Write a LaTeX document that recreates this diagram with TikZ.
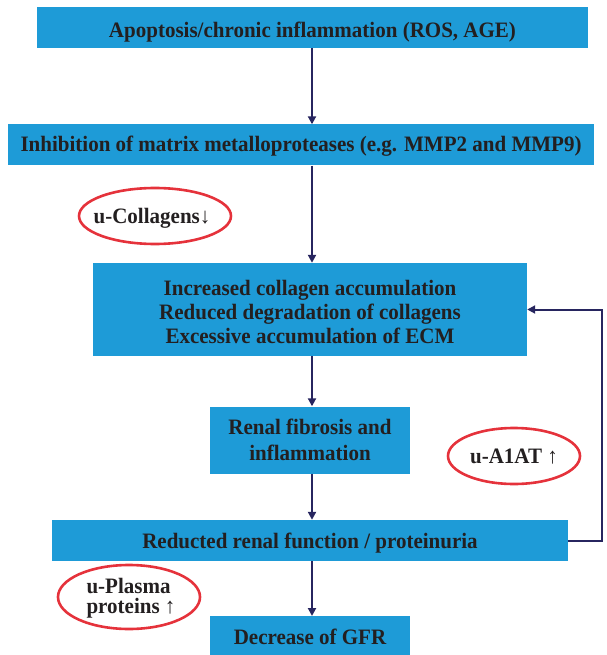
\documentclass[tikz,border=0pt]{standalone}
\usepackage{fontspec}
\setmainfont[FakeStretch=0.955]{Liberation Serif}
\usetikzlibrary{arrows.meta,shapes.geometric}
\definecolor{boxblue}{HTML}{1E9BD7}
\definecolor{navy}{HTML}{27255F}
\definecolor{ovalred}{HTML}{E5323B}
\definecolor{txt}{HTML}{231F20}
\newcommand{\lowertxt}[2]{\raisebox{-#1}[\height][\depth]{#2}}
\begin{document}
\begin{tikzpicture}[x=1pt,y=-1pt,
  box/.style={draw=none,fill=boxblue,inner sep=0pt,text=txt,font=\fontsize{22}{24}\selectfont\bfseries,align=center},
  conn/.style={draw=navy,line width=2pt,-{Triangle[length=8pt,width=8pt]}},
  ovaltext/.style={inner sep=0pt,text=txt,font=\fontsize{22}{20}\selectfont\bfseries,align=left},
  ovalline/.style={draw=ovalred,line width=2.6pt}]
\useasboundingbox (0,0) rectangle (606,655);
\node[box,minimum width=551pt,minimum height=41pt] (b1) at (312.5,27.5) {\lowertxt{5pt}{Apoptosis/chronic inflammation (ROS, AGE)}};
\node[box,minimum width=586pt,minimum height=41pt] (b2) at (301,145) {\lowertxt{1pt}{Inhibition of matrix metalloproteases (e.g. MMP2 and MMP9)}};
\node[box,minimum width=434pt,minimum height=93pt] (b3) at (310,309.5) {\lowertxt{2pt}{\parbox{430pt}{\centering Increased collagen accumulation\\Reduced degradation of collagens\\Excessive accumulation of ECM}}};
\node[box,minimum width=200pt,minimum height=67pt,font=\fontsize{22}{26}\selectfont\bfseries] (b4) at (310,440) {Renal fibrosis and\\inflammation};
\node[box,minimum width=516pt,minimum height=41pt] (b5) at (310,540.5) {\lowertxt{3pt}{Reducted renal function / proteinuria}};
\node[box,minimum width=200pt,minimum height=42pt,anchor=north] (b6) at (310,616) {Decrease of GFR};
\node[ovaltext] (o1) at (152,218) {u-Collagens↓};
\node[ovaltext] (o2) at (514,457) {u-A1AT ↑};
\node[ovaltext] (o3) at (131,598) {u-Plasma\\proteins ↑};
\draw[ovalline] (155,216) ellipse [x radius=76, y radius=28];
\draw[ovalline] (514,456) ellipse [x radius=66, y radius=28];
\draw[ovalline] (129,597) ellipse [x radius=71, y radius=32];
\draw[conn] (b1.south -| 312,0) -- (b2.north -| 312,0);
\draw[conn] (b2.south -| 312,0) -- (b3.north -| 312,0);
\draw[conn] (b3.south -| 312,0) -- (b4.north -| 312,0);
\draw[conn] (b4.south -| 312,0) -- (b5.north -| 312,0);
\draw[conn] (b5.south -| 312,0) -- (b6.north -| 312,0);
\coordinate (fb) at (602,0);
\draw[conn] (b5.east) -- (b5.east -| fb) -- (b3.east -| fb) -- (b3.east);
\end{tikzpicture}
\end{document}
